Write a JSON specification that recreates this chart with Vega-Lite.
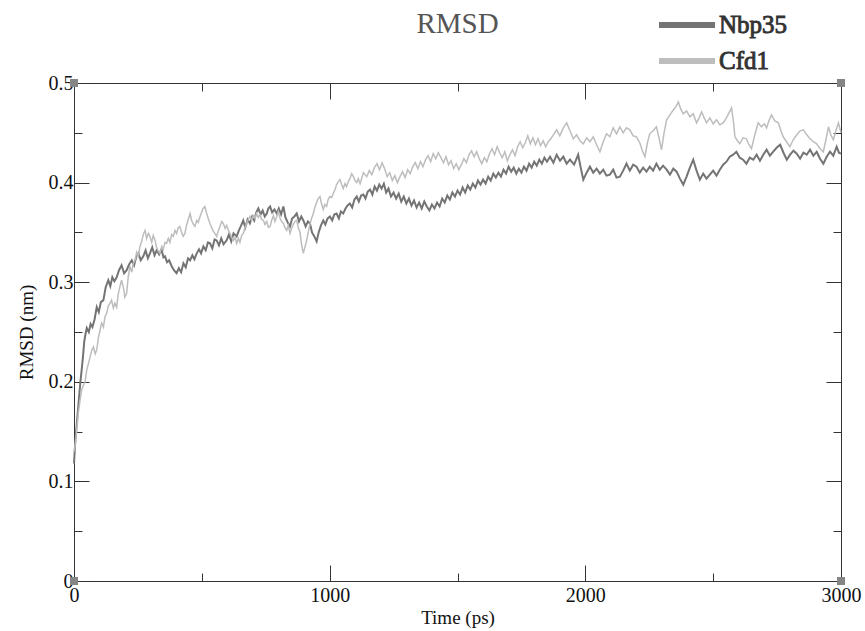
{
  "$schema": "https://vega.github.io/schema/vega-lite/v6.json",
  "width": 767,
  "height": 498,
  "autosize": "none",
  "padding": {"left": 74, "top": 83, "right": 24, "bottom": 50},
  "background": "white",
  "title": {"text": "RMSD", "font": "Liberation Serif", "fontSize": 29, "fontWeight": "normal", "color": "#555555", "anchor": "middle", "offset": -31},
  "config": {
    "view": {"stroke": null},
    "axis": {"grid": false, "domainColor": "#333333", "tickColor": "#333333", "labelFont": "Liberation Serif", "labelFontSize": 20, "labelColor": "#111111", "titleFont": "Liberation Serif", "titleFontSize": 19, "titleFontWeight": "normal", "titleColor": "#111111", "labelFlush": false, "labelOverlap": false},
    "legend": {"labelFont": "Liberation Serif", "labelFontSize": 25}
  },
  "datasets": {
    "nbp": [
      {"t":0,"v":0.118},{"t":5,"v":0.14},{"t":10,"v":0.155},{"t":15,"v":0.17},{"t":20,"v":0.185},{"t":25,"v":0.2},{"t":30,"v":0.212},{"t":35,"v":0.225},{"t":40,"v":0.24},{"t":45,"v":0.248},{"t":50,"v":0.254},{"t":58,"v":0.25},{"t":65,"v":0.258},{"t":72,"v":0.255},{"t":80,"v":0.262},{"t":89,"v":0.275},{"t":97,"v":0.27},{"t":105,"v":0.28},{"t":115,"v":0.282},{"t":124,"v":0.295},{"t":134,"v":0.302},{"t":142,"v":0.296},{"t":150,"v":0.305},{"t":158,"v":0.301},{"t":167,"v":0.305},{"t":176,"v":0.312},{"t":186,"v":0.317},{"t":196,"v":0.309},{"t":206,"v":0.312},{"t":216,"v":0.318},{"t":226,"v":0.322},{"t":235,"v":0.317},{"t":244,"v":0.326},{"t":252,"v":0.329},{"t":261,"v":0.322},{"t":271,"v":0.326},{"t":280,"v":0.332},{"t":289,"v":0.324},{"t":297,"v":0.329},{"t":306,"v":0.335},{"t":315,"v":0.327},{"t":323,"v":0.332},{"t":333,"v":0.328},{"t":342,"v":0.333},{"t":350,"v":0.325},{"t":356,"v":0.326},{"t":364,"v":0.32},{"t":372,"v":0.322},{"t":382,"v":0.316},{"t":391,"v":0.312},{"t":401,"v":0.309},{"t":410,"v":0.314},{"t":419,"v":0.31},{"t":428,"v":0.319},{"t":437,"v":0.315},{"t":446,"v":0.324},{"t":454,"v":0.322},{"t":463,"v":0.327},{"t":471,"v":0.323},{"t":480,"v":0.329},{"t":489,"v":0.333},{"t":497,"v":0.329},{"t":506,"v":0.336},{"t":515,"v":0.332},{"t":524,"v":0.34},{"t":532,"v":0.339},{"t":541,"v":0.334},{"t":550,"v":0.343},{"t":558,"v":0.342},{"t":567,"v":0.337},{"t":576,"v":0.344},{"t":585,"v":0.338},{"t":597,"v":0.342},{"t":606,"v":0.348},{"t":615,"v":0.341},{"t":624,"v":0.349},{"t":636,"v":0.346},{"t":645,"v":0.352},{"t":654,"v":0.357},{"t":662,"v":0.362},{"t":670,"v":0.355},{"t":679,"v":0.363},{"t":688,"v":0.359},{"t":697,"v":0.366},{"t":705,"v":0.362},{"t":713,"v":0.37},{"t":721,"v":0.374},{"t":730,"v":0.368},{"t":738,"v":0.372},{"t":746,"v":0.366},{"t":754,"v":0.369},{"t":760,"v":0.374},{"t":767,"v":0.376},{"t":775,"v":0.37},{"t":784,"v":0.373},{"t":793,"v":0.369},{"t":801,"v":0.374},{"t":810,"v":0.368},{"t":819,"v":0.376},{"t":827,"v":0.365},{"t":836,"v":0.36},{"t":845,"v":0.356},{"t":853,"v":0.364},{"t":862,"v":0.366},{"t":871,"v":0.369},{"t":880,"v":0.361},{"t":889,"v":0.366},{"t":897,"v":0.362},{"t":906,"v":0.356},{"t":915,"v":0.361},{"t":923,"v":0.359},{"t":931,"v":0.35},{"t":940,"v":0.346},{"t":949,"v":0.341},{"t":957,"v":0.35},{"t":966,"v":0.357},{"t":975,"v":0.362},{"t":983,"v":0.358},{"t":992,"v":0.364},{"t":1001,"v":0.366},{"t":1010,"v":0.362},{"t":1018,"v":0.368},{"t":1027,"v":0.369},{"t":1036,"v":0.364},{"t":1044,"v":0.371},{"t":1053,"v":0.369},{"t":1062,"v":0.374},{"t":1070,"v":0.377},{"t":1079,"v":0.379},{"t":1088,"v":0.375},{"t":1097,"v":0.383},{"t":1106,"v":0.386},{"t":1114,"v":0.381},{"t":1123,"v":0.387},{"t":1132,"v":0.388},{"t":1140,"v":0.384},{"t":1149,"v":0.391},{"t":1158,"v":0.393},{"t":1167,"v":0.388},{"t":1176,"v":0.396},{"t":1185,"v":0.392},{"t":1194,"v":0.398},{"t":1203,"v":0.394},{"t":1212,"v":0.399},{"t":1221,"v":0.39},{"t":1230,"v":0.394},{"t":1240,"v":0.386},{"t":1250,"v":0.39},{"t":1260,"v":0.384},{"t":1270,"v":0.389},{"t":1280,"v":0.381},{"t":1290,"v":0.386},{"t":1300,"v":0.379},{"t":1310,"v":0.384},{"t":1320,"v":0.377},{"t":1330,"v":0.382},{"t":1340,"v":0.375},{"t":1350,"v":0.38},{"t":1360,"v":0.374},{"t":1370,"v":0.381},{"t":1380,"v":0.376},{"t":1390,"v":0.372},{"t":1400,"v":0.378},{"t":1410,"v":0.374},{"t":1420,"v":0.38},{"t":1430,"v":0.376},{"t":1440,"v":0.384},{"t":1450,"v":0.38},{"t":1460,"v":0.387},{"t":1470,"v":0.383},{"t":1480,"v":0.39},{"t":1490,"v":0.386},{"t":1500,"v":0.392},{"t":1510,"v":0.388},{"t":1520,"v":0.395},{"t":1530,"v":0.39},{"t":1540,"v":0.397},{"t":1550,"v":0.393},{"t":1560,"v":0.399},{"t":1570,"v":0.395},{"t":1580,"v":0.402},{"t":1590,"v":0.398},{"t":1600,"v":0.403},{"t":1610,"v":0.399},{"t":1620,"v":0.406},{"t":1630,"v":0.402},{"t":1640,"v":0.409},{"t":1650,"v":0.405},{"t":1660,"v":0.41},{"t":1670,"v":0.406},{"t":1680,"v":0.413},{"t":1690,"v":0.409},{"t":1700,"v":0.416},{"t":1710,"v":0.411},{"t":1720,"v":0.415},{"t":1730,"v":0.409},{"t":1740,"v":0.414},{"t":1750,"v":0.41},{"t":1760,"v":0.416},{"t":1770,"v":0.412},{"t":1780,"v":0.419},{"t":1790,"v":0.415},{"t":1800,"v":0.421},{"t":1810,"v":0.417},{"t":1820,"v":0.423},{"t":1830,"v":0.419},{"t":1840,"v":0.425},{"t":1850,"v":0.421},{"t":1862,"v":0.426},{"t":1875,"v":0.42},{"t":1888,"v":0.428},{"t":1901,"v":0.422},{"t":1914,"v":0.426},{"t":1927,"v":0.419},{"t":1940,"v":0.423},{"t":1956,"v":0.418},{"t":1972,"v":0.428},{"t":1982,"v":0.415},{"t":1992,"v":0.403},{"t":2005,"v":0.41},{"t":2018,"v":0.416},{"t":2031,"v":0.41},{"t":2044,"v":0.414},{"t":2057,"v":0.409},{"t":2070,"v":0.413},{"t":2083,"v":0.407},{"t":2096,"v":0.408},{"t":2109,"v":0.413},{"t":2122,"v":0.405},{"t":2135,"v":0.406},{"t":2148,"v":0.412},{"t":2161,"v":0.419},{"t":2174,"v":0.412},{"t":2187,"v":0.418},{"t":2200,"v":0.416},{"t":2213,"v":0.41},{"t":2226,"v":0.415},{"t":2239,"v":0.411},{"t":2252,"v":0.416},{"t":2265,"v":0.412},{"t":2278,"v":0.419},{"t":2291,"v":0.413},{"t":2304,"v":0.417},{"t":2318,"v":0.413},{"t":2331,"v":0.408},{"t":2344,"v":0.414},{"t":2357,"v":0.411},{"t":2370,"v":0.404},{"t":2383,"v":0.398},{"t":2396,"v":0.406},{"t":2409,"v":0.415},{"t":2422,"v":0.423},{"t":2435,"v":0.412},{"t":2448,"v":0.403},{"t":2461,"v":0.409},{"t":2474,"v":0.404},{"t":2487,"v":0.408},{"t":2500,"v":0.412},{"t":2513,"v":0.407},{"t":2526,"v":0.413},{"t":2539,"v":0.418},{"t":2552,"v":0.421},{"t":2565,"v":0.426},{"t":2578,"v":0.428},{"t":2591,"v":0.431},{"t":2604,"v":0.425},{"t":2617,"v":0.423},{"t":2630,"v":0.419},{"t":2643,"v":0.425},{"t":2657,"v":0.423},{"t":2670,"v":0.428},{"t":2683,"v":0.422},{"t":2696,"v":0.428},{"t":2709,"v":0.433},{"t":2722,"v":0.427},{"t":2735,"v":0.431},{"t":2748,"v":0.435},{"t":2762,"v":0.438},{"t":2775,"v":0.43},{"t":2788,"v":0.423},{"t":2801,"v":0.428},{"t":2814,"v":0.432},{"t":2827,"v":0.429},{"t":2840,"v":0.424},{"t":2853,"v":0.43},{"t":2866,"v":0.428},{"t":2879,"v":0.433},{"t":2892,"v":0.427},{"t":2905,"v":0.431},{"t":2918,"v":0.424},{"t":2931,"v":0.419},{"t":2944,"v":0.426},{"t":2957,"v":0.431},{"t":2970,"v":0.427},{"t":2983,"v":0.436},{"t":2992,"v":0.43},{"t":3000,"v":0.429}
    ],
    "cfd": [
      {"t":0,"v":0.13},{"t":4,"v":0.135},{"t":10,"v":0.15},{"t":17,"v":0.169},{"t":23,"v":0.18},{"t":30,"v":0.192},{"t":36,"v":0.196},{"t":43,"v":0.2},{"t":50,"v":0.212},{"t":56,"v":0.218},{"t":63,"v":0.225},{"t":70,"v":0.232},{"t":76,"v":0.235},{"t":83,"v":0.228},{"t":89,"v":0.232},{"t":96,"v":0.245},{"t":102,"v":0.252},{"t":108,"v":0.259},{"t":115,"v":0.255},{"t":121,"v":0.265},{"t":128,"v":0.269},{"t":134,"v":0.276},{"t":141,"v":0.279},{"t":147,"v":0.282},{"t":154,"v":0.274},{"t":160,"v":0.279},{"t":167,"v":0.275},{"t":173,"v":0.288},{"t":180,"v":0.296},{"t":186,"v":0.302},{"t":193,"v":0.295},{"t":199,"v":0.285},{"t":206,"v":0.289},{"t":212,"v":0.305},{"t":219,"v":0.316},{"t":226,"v":0.31},{"t":232,"v":0.319},{"t":239,"v":0.322},{"t":245,"v":0.33},{"t":252,"v":0.326},{"t":258,"v":0.336},{"t":265,"v":0.341},{"t":271,"v":0.348},{"t":278,"v":0.352},{"t":284,"v":0.344},{"t":291,"v":0.349},{"t":297,"v":0.346},{"t":304,"v":0.34},{"t":310,"v":0.347},{"t":317,"v":0.342},{"t":323,"v":0.335},{"t":330,"v":0.331},{"t":336,"v":0.329},{"t":343,"v":0.336},{"t":349,"v":0.333},{"t":356,"v":0.34},{"t":362,"v":0.339},{"t":369,"v":0.344},{"t":375,"v":0.34},{"t":382,"v":0.348},{"t":388,"v":0.346},{"t":395,"v":0.352},{"t":401,"v":0.349},{"t":408,"v":0.355},{"t":414,"v":0.356},{"t":421,"v":0.35},{"t":427,"v":0.346},{"t":434,"v":0.349},{"t":440,"v":0.357},{"t":447,"v":0.363},{"t":454,"v":0.369},{"t":460,"v":0.362},{"t":467,"v":0.358},{"t":473,"v":0.356},{"t":480,"v":0.362},{"t":486,"v":0.36},{"t":493,"v":0.366},{"t":499,"v":0.37},{"t":505,"v":0.374},{"t":512,"v":0.376},{"t":518,"v":0.37},{"t":525,"v":0.364},{"t":532,"v":0.359},{"t":538,"v":0.355},{"t":545,"v":0.351},{"t":551,"v":0.349},{"t":558,"v":0.346},{"t":565,"v":0.352},{"t":571,"v":0.356},{"t":578,"v":0.361},{"t":584,"v":0.359},{"t":591,"v":0.354},{"t":597,"v":0.357},{"t":604,"v":0.352},{"t":610,"v":0.349},{"t":617,"v":0.345},{"t":623,"v":0.342},{"t":630,"v":0.345},{"t":636,"v":0.339},{"t":643,"v":0.344},{"t":649,"v":0.34},{"t":656,"v":0.347},{"t":662,"v":0.349},{"t":669,"v":0.355},{"t":675,"v":0.359},{"t":682,"v":0.363},{"t":688,"v":0.366},{"t":695,"v":0.362},{"t":701,"v":0.367},{"t":708,"v":0.364},{"t":714,"v":0.369},{"t":721,"v":0.365},{"t":727,"v":0.368},{"t":734,"v":0.363},{"t":741,"v":0.362},{"t":747,"v":0.358},{"t":754,"v":0.361},{"t":760,"v":0.355},{"t":767,"v":0.356},{"t":773,"v":0.362},{"t":780,"v":0.367},{"t":786,"v":0.361},{"t":793,"v":0.366},{"t":799,"v":0.371},{"t":806,"v":0.364},{"t":812,"v":0.361},{"t":819,"v":0.359},{"t":825,"v":0.355},{"t":832,"v":0.352},{"t":838,"v":0.357},{"t":845,"v":0.349},{"t":851,"v":0.354},{"t":858,"v":0.358},{"t":864,"v":0.361},{"t":871,"v":0.362},{"t":877,"v":0.355},{"t":884,"v":0.35},{"t":890,"v":0.338},{"t":897,"v":0.329},{"t":903,"v":0.335},{"t":910,"v":0.342},{"t":916,"v":0.35},{"t":923,"v":0.358},{"t":929,"v":0.364},{"t":936,"v":0.369},{"t":942,"v":0.375},{"t":949,"v":0.38},{"t":955,"v":0.384},{"t":962,"v":0.386},{"t":968,"v":0.379},{"t":975,"v":0.373},{"t":981,"v":0.378},{"t":988,"v":0.376},{"t":994,"v":0.383},{"t":1001,"v":0.386},{"t":1008,"v":0.385},{"t":1014,"v":0.389},{"t":1021,"v":0.393},{"t":1027,"v":0.398},{"t":1034,"v":0.401},{"t":1040,"v":0.403},{"t":1047,"v":0.398},{"t":1053,"v":0.394},{"t":1060,"v":0.399},{"t":1066,"v":0.396},{"t":1073,"v":0.401},{"t":1079,"v":0.404},{"t":1086,"v":0.409},{"t":1093,"v":0.406},{"t":1099,"v":0.402},{"t":1106,"v":0.4},{"t":1112,"v":0.404},{"t":1119,"v":0.399},{"t":1125,"v":0.404},{"t":1132,"v":0.41},{"t":1138,"v":0.408},{"t":1145,"v":0.406},{"t":1155,"v":0.412},{"t":1165,"v":0.408},{"t":1175,"v":0.415},{"t":1185,"v":0.419},{"t":1195,"v":0.413},{"t":1205,"v":0.42},{"t":1215,"v":0.414},{"t":1225,"v":0.406},{"t":1235,"v":0.41},{"t":1245,"v":0.402},{"t":1255,"v":0.407},{"t":1265,"v":0.4},{"t":1275,"v":0.406},{"t":1285,"v":0.411},{"t":1295,"v":0.405},{"t":1305,"v":0.413},{"t":1315,"v":0.409},{"t":1325,"v":0.416},{"t":1335,"v":0.42},{"t":1345,"v":0.414},{"t":1355,"v":0.421},{"t":1365,"v":0.416},{"t":1375,"v":0.423},{"t":1385,"v":0.427},{"t":1395,"v":0.421},{"t":1405,"v":0.429},{"t":1415,"v":0.424},{"t":1425,"v":0.43},{"t":1435,"v":0.425},{"t":1445,"v":0.42},{"t":1455,"v":0.426},{"t":1465,"v":0.418},{"t":1475,"v":0.422},{"t":1485,"v":0.414},{"t":1495,"v":0.419},{"t":1505,"v":0.413},{"t":1515,"v":0.418},{"t":1525,"v":0.424},{"t":1535,"v":0.42},{"t":1545,"v":0.428},{"t":1555,"v":0.432},{"t":1565,"v":0.426},{"t":1575,"v":0.431},{"t":1585,"v":0.424},{"t":1595,"v":0.419},{"t":1605,"v":0.425},{"t":1615,"v":0.421},{"t":1625,"v":0.429},{"t":1635,"v":0.434},{"t":1645,"v":0.428},{"t":1655,"v":0.436},{"t":1665,"v":0.43},{"t":1675,"v":0.425},{"t":1685,"v":0.431},{"t":1695,"v":0.422},{"t":1705,"v":0.428},{"t":1715,"v":0.433},{"t":1725,"v":0.427},{"t":1735,"v":0.436},{"t":1745,"v":0.441},{"t":1755,"v":0.435},{"t":1765,"v":0.44},{"t":1775,"v":0.447},{"t":1785,"v":0.439},{"t":1795,"v":0.445},{"t":1805,"v":0.438},{"t":1815,"v":0.444},{"t":1825,"v":0.437},{"t":1835,"v":0.442},{"t":1845,"v":0.436},{"t":1855,"v":0.441},{"t":1862,"v":0.443},{"t":1875,"v":0.448},{"t":1888,"v":0.453},{"t":1900,"v":0.447},{"t":1914,"v":0.455},{"t":1927,"v":0.46},{"t":1940,"v":0.452},{"t":1953,"v":0.444},{"t":1966,"v":0.448},{"t":1979,"v":0.442},{"t":1992,"v":0.439},{"t":2005,"v":0.445},{"t":2018,"v":0.441},{"t":2031,"v":0.446},{"t":2044,"v":0.438},{"t":2057,"v":0.431},{"t":2070,"v":0.441},{"t":2083,"v":0.449},{"t":2096,"v":0.446},{"t":2109,"v":0.455},{"t":2122,"v":0.449},{"t":2135,"v":0.456},{"t":2148,"v":0.45},{"t":2161,"v":0.455},{"t":2174,"v":0.453},{"t":2187,"v":0.447},{"t":2200,"v":0.446},{"t":2213,"v":0.44},{"t":2223,"v":0.432},{"t":2233,"v":0.426},{"t":2243,"v":0.44},{"t":2252,"v":0.449},{"t":2265,"v":0.452},{"t":2278,"v":0.456},{"t":2288,"v":0.445},{"t":2298,"v":0.433},{"t":2308,"v":0.45},{"t":2318,"v":0.463},{"t":2331,"v":0.468},{"t":2344,"v":0.473},{"t":2354,"v":0.476},{"t":2364,"v":0.481},{"t":2373,"v":0.474},{"t":2383,"v":0.469},{"t":2396,"v":0.472},{"t":2409,"v":0.466},{"t":2422,"v":0.469},{"t":2435,"v":0.46},{"t":2445,"v":0.465},{"t":2455,"v":0.471},{"t":2465,"v":0.465},{"t":2474,"v":0.46},{"t":2487,"v":0.465},{"t":2500,"v":0.459},{"t":2513,"v":0.463},{"t":2526,"v":0.458},{"t":2539,"v":0.46},{"t":2552,"v":0.465},{"t":2562,"v":0.47},{"t":2572,"v":0.475},{"t":2580,"v":0.46},{"t":2585,"v":0.446},{"t":2595,"v":0.442},{"t":2604,"v":0.439},{"t":2617,"v":0.445},{"t":2630,"v":0.444},{"t":2640,"v":0.438},{"t":2650,"v":0.434},{"t":2663,"v":0.448},{"t":2676,"v":0.46},{"t":2689,"v":0.456},{"t":2700,"v":0.459},{"t":2709,"v":0.455},{"t":2718,"v":0.462},{"t":2728,"v":0.468},{"t":2741,"v":0.462},{"t":2755,"v":0.46},{"t":2765,"v":0.452},{"t":2774,"v":0.446},{"t":2787,"v":0.441},{"t":2800,"v":0.436},{"t":2813,"v":0.443},{"t":2827,"v":0.448},{"t":2840,"v":0.452},{"t":2853,"v":0.453},{"t":2866,"v":0.448},{"t":2879,"v":0.444},{"t":2892,"v":0.441},{"t":2905,"v":0.439},{"t":2918,"v":0.434},{"t":2931,"v":0.431},{"t":2941,"v":0.443},{"t":2951,"v":0.456},{"t":2960,"v":0.448},{"t":2970,"v":0.443},{"t":2980,"v":0.452},{"t":2990,"v":0.46},{"t":3000,"v":0.45}
    ],
    "corners": [
      {"t":0,"v":0},{"t":3000,"v":0},{"t":0,"v":0.5},{"t":3000,"v":0.5}
    ]
  },
  "layer": [
    {
      "data": {"name": "nbp"},
      "mark": {"type": "line", "strokeWidth": 2, "interpolate": "linear"},
      "encoding": {
        "x": {"field": "t", "type": "quantitative", "scale": {"domain": [0, 3000], "nice": false, "zero": false},
          "axis": {"orient": "bottom", "values": [0,500,1000,1500,2000,2500,3000], "labelExpr": "datum.value % 1000 === 0 ? format(datum.value, 'd') : ''", "tickSize": {"condition": {"test": "datum.value % 1000 === 0", "value": -16}, "value": -8}, "labelPadding": 20, "title": "Time (ps)", "titlePadding": -5}},
        "y": {"field": "v", "type": "quantitative", "scale": {"domain": [0, 0.5], "nice": false, "zero": false},
          "axis": {"orient": "left", "values": [0,0.05,0.1,0.15,0.2,0.25,0.3,0.35,0.4,0.45,0.5], "labelExpr": "round(datum.value*100) % 10 === 0 ? format(datum.value, '') : ''", "tickSize": {"condition": {"test": "round(datum.value*100) % 10 === 0", "value": -15}, "value": -8}, "labelPadding": 16, "title": "RMSD (nm)", "titlePadding": 12}},
        "color": {"datum": "Nbp35", "type": "nominal",
          "scale": {"domain": ["Nbp35", "Cfd1"], "range": ["#747474", "#bdbdbd"]},
          "legend": {"title": null, "orient": "none", "legendX": 596, "legendY": -75, "symbolType": "M-2,0L2,0", "symbolSize": 784, "symbolStrokeWidth": 6, "labelFont": "Liberation Serif", "labelFontSize": 25, "labelFontWeight": "normal", "labelColor": "#333333", "rowPadding": 6, "padding": 0,
            "labelBaseline": "alphabetic", "labelOffset": 15,
            "encode": {"labels": {"update": {"font": {"value": "Liberation Serif"}, "stroke": {"value": "#333333"}, "strokeWidth": {"value": 0.9}, "dy": {"value": 8}}}}}}
      }
    },
    {
      "data": {"name": "cfd"},
      "mark": {"type": "line", "strokeWidth": 1.5, "interpolate": "linear"},
      "encoding": {
        "x": {"field": "t", "type": "quantitative", "axis": null},
        "y": {"field": "v", "type": "quantitative", "axis": null},
        "color": {"datum": "Cfd1", "type": "nominal"}
      }
    },
    {
      "data": {"name": "corners"},
      "mark": {"type": "point", "shape": "square", "filled": true, "size": 64, "color": "#858585", "opacity": 1},
      "encoding": {
        "x": {"field": "t", "type": "quantitative",
          "axis": {"orient": "top", "values": [0,500,1000,1500,2000,2500,3000], "labels": false, "tickSize": {"condition": {"test": "datum.value % 1000 === 0", "value": -16}, "value": -8}, "title": null}},
        "y": {"field": "v", "type": "quantitative",
          "axis": {"orient": "right", "values": [0,0.05,0.1,0.15,0.2,0.25,0.3,0.35,0.4,0.45,0.5], "labels": false, "tickSize": {"condition": {"test": "round(datum.value*100) % 10 === 0", "value": -15}, "value": -8}, "title": null}}
      }
    }
  ],
  "resolve": {"axis": {"x": "independent", "y": "independent"}}
}
